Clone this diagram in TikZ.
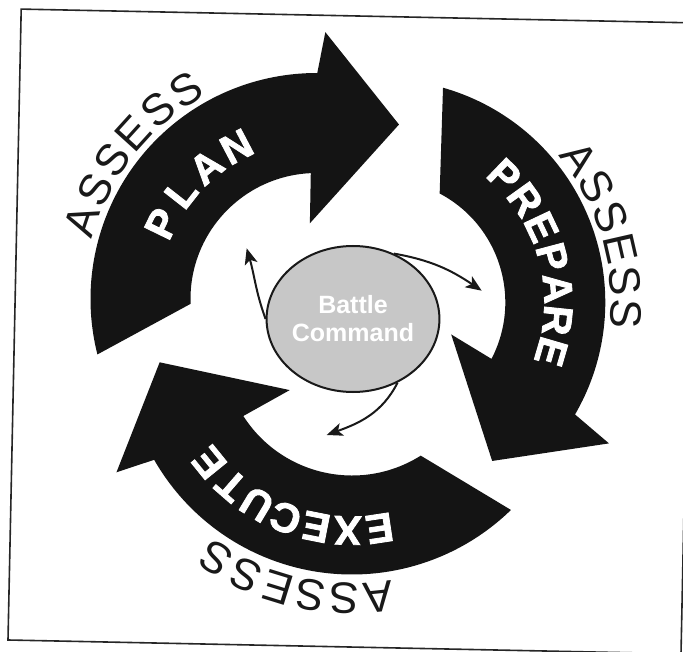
\documentclass[tikz,border=0pt]{standalone}
\usepackage{fontspec}
\setmainfont{Liberation Sans}
\newfontfamily\heavyfont{Liberation Sans}[BoldFeatures={FakeBold=2}]
\usetikzlibrary{shapes.geometric,arrows.meta,calc}
\tikzset{
  arrowfill/.style={fill=black!92},
  wordletter/.style={text=white, inner sep=0pt, font=\heavyfont\bfseries\fontsize{41}{41}\selectfont},
  assessletter/.style={text=black!90, inner sep=0pt, font=\fontsize{44}{44}\selectfont},
  conn/.style={draw=black!90, line width=2pt, -{Stealth[length=16pt,width=13pt,inset=4pt]}},
  bcircle/.style={ellipse, draw=black!90, line width=2pt, fill=black!22, minimum width=168pt, minimum height=146pt, inner sep=0pt, text=white, align=center, font=\bfseries\fontsize{25}{28}\selectfont},
  frameline/.style={draw=black!85, line width=1.6pt}
}
% #1 centre, #2 rotation, #3 outer radius, #4 inner radius
\newcommand{\cyclearrow}[4]{%
  \fill[arrowfill, shift={(#1)}, rotate=#2] (74.2:#3) arc[start angle=74.2, end angle=-30.2, radius=#3] -- (-31.9:267) -- (-55.3:193) -- (-25:76) -- (-27.4:#4) arc[start angle=-27.4, end angle=62.2, radius=#4] -- cycle;}
\newcommand{\arcletters}[7]{%
  \foreach \ch [count=\i] in {#7} {
    \pgfmathsetmacro\ang{#3-(\i-1)*#4}
    \node[#5, rotate=\ang-90] (#6\i) at ($(#1)+(\ang:#2)$) {\ch};
  }}
\begin{document}
\begin{tikzpicture}[x=1pt,y=1pt]
\useasboundingbox (0,0) rectangle (683,-652);
\fill[white] (0,0) rectangle (683,-652);
\begin{scope}
\clip (0,0) rectangle (683,-652);
\draw[frameline] (21.2,-9.1) -- (694,-22.9) -- (681,-653.8) -- (8,-640) -- cycle;
\end{scope}
\coordinate (CPL) at (316.5,-299);
\coordinate (CPR) at (382.3,-302.3);
\coordinate (CEX) at (352,-346.5);
\cyclearrow{CPL}{120}{226}{126}
\cyclearrow{CPR}{0}{223}{123}
\cyclearrow{CEX}{-120}{228}{129}
\arcletters{CPL}{172}{154}{12.1}{wordletter}{pl}{P,L,A,N}
\arcletters{CPR}{176}{46.1}{10.4}{wordletter}{pr}{P,R,E,P,A,R,E}
\arcletters{CEX}{184}{278.6}{9.92}{wordletter}{ex}{E,X,E,C,U,T,E}
\arcletters{CPL}{247}{161.5}{7.9}{assessletter}{apl}{A,S,S,E,S,S}
\arcletters{CPR}{244}{36}{7.72}{assessletter}{apr}{A,S,S,E,S,S}
\arcletters{CEX}{252}{276}{7.72}{assessletter}{aex}{A,S,S,E,S,S}
\node[bcircle] (bc) at (353,-319) {Battle\\Command};
\coordinate (t1) at (246.7,-248.3);
\coordinate (t2) at (481.7,-290.7);
\coordinate (t3) at (326.7,-435);
\draw[conn] (bc.180) to[out=110,in=-74] (t1);
\draw[conn] (bc.58) to[out=-10,in=146] (t2);
\draw[conn] (bc.-55) to[out=243,in=20] (t3);
\end{tikzpicture}
\end{document}
